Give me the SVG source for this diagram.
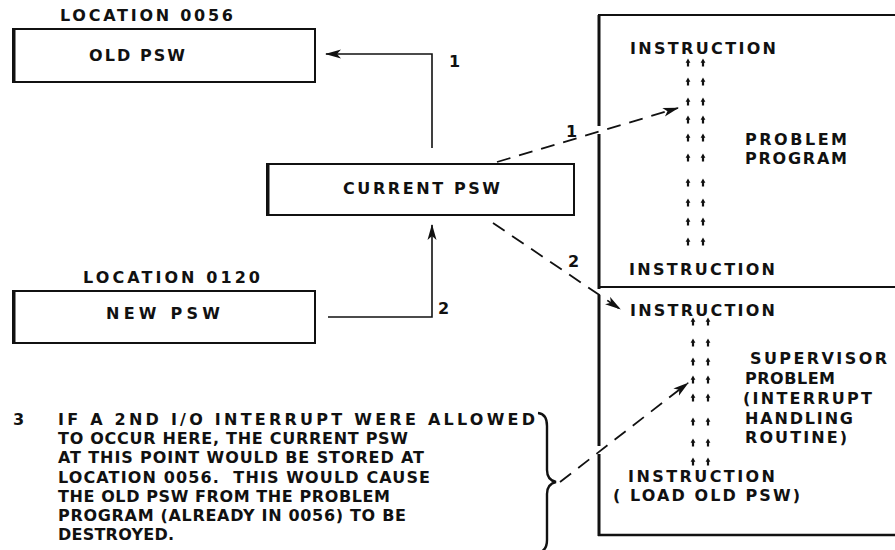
<svg xmlns="http://www.w3.org/2000/svg" width="895" height="550" viewBox="0 0 895 550">
<defs>
<style>
text{font-family:"DejaVu Sans","Liberation Sans",sans-serif;font-weight:bold;fill:#111;font-size:16px}
.note{font-size:16px}
.box{fill:#fff;stroke:#111;stroke-width:2}
.edge{stroke:#111;stroke-width:3;fill:none}
.conn{fill:none;stroke:#111;stroke-width:1.6}
.dash{fill:none;stroke:#111;stroke-width:1.8;stroke-dasharray:14 9}
.brace{fill:none;stroke:#111;stroke-width:2.4}
</style>
<marker id="ah" viewBox="0 0 16 10" refX="15" refY="5" markerWidth="16" markerHeight="10" markerUnits="userSpaceOnUse" orient="auto"><path d="M0,0.5 L16,5 L0,9.5 L4,5 Z" fill="#111"/></marker>
<path id="tick" d="M0,-4.5 L2.4,-0.3 L1.1,-0.3 L1.1,3.5 L-1.1,3.5 L-1.1,-0.3 L-2.4,-0.3 Z" fill="#111"/>
</defs>
<rect width="895" height="550" fill="#fff"/>

<g id="old-psw">
<text x="60" y="21" textLength="173" lengthAdjust="spacing">LOCATION 0056</text>
<rect class="box" x="13" y="29" width="302" height="53"/>
<line class="edge" x1="14" y1="29" x2="14" y2="82"/>
<text x="89" y="61" textLength="96" lengthAdjust="spacing">OLD PSW</text>
</g>

<g id="current-psw">
<rect class="box" x="267" y="164" width="307" height="51"/>
<line class="edge" x1="268" y1="164" x2="268" y2="215"/>
<text x="343" y="194" textLength="157" lengthAdjust="spacing">CURRENT PSW</text>
</g>

<g id="new-psw">
<text x="83" y="283" textLength="177" lengthAdjust="spacing">LOCATION 0120</text>
<rect class="box" x="13" y="291" width="302" height="52"/>
<line class="edge" x1="14" y1="291" x2="14" y2="343"/>
<text x="106" y="319" textLength="114" lengthAdjust="spacing">NEW PSW</text>
</g>

<g id="problem-program">
<path class="conn" style="stroke-width:2" d="M598,15 H895 M598,287 H895"/>
<path class="edge" d="M599,15 V126 M599,134 V289"/>
<text x="630" y="54" textLength="146" lengthAdjust="spacing">INSTRUCTION</text>
<use href="#tick" x="688" y="63"/><use href="#tick" x="703" y="63"/>
<use href="#tick" x="688" y="82"/><use href="#tick" x="703" y="82"/>
<use href="#tick" x="688" y="102"/><use href="#tick" x="703" y="102"/>
<use href="#tick" x="688" y="120"/><use href="#tick" x="703" y="120"/>
<use href="#tick" x="688" y="138"/><use href="#tick" x="703" y="138"/>
<use href="#tick" x="688" y="158"/><use href="#tick" x="703" y="158"/>
<use href="#tick" x="688" y="183"/><use href="#tick" x="703" y="183"/>
<use href="#tick" x="688" y="203"/><use href="#tick" x="703" y="203"/>
<use href="#tick" x="688" y="222"/><use href="#tick" x="703" y="222"/>
<use href="#tick" x="688" y="242"/><use href="#tick" x="703" y="242"/>
<text x="745" y="145" textLength="102" lengthAdjust="spacing">PROBLEM</text>
<text x="745" y="164" textLength="102" lengthAdjust="spacing">PROGRAM</text>
<text x="629" y="275" textLength="146" lengthAdjust="spacing">INSTRUCTION</text>
</g>

<g id="supervisor-routine">
<path class="conn" style="stroke-width:2.4" d="M598,535 H895"/>
<path class="edge" d="M599,295 V446 M599,454 V536"/>
<text x="630" y="316" textLength="145" lengthAdjust="spacing">INSTRUCTION</text>
<use href="#tick" x="693" y="322"/><use href="#tick" x="708" y="322"/>
<use href="#tick" x="693" y="343"/><use href="#tick" x="708" y="343"/>
<use href="#tick" x="693" y="362"/><use href="#tick" x="708" y="362"/>
<use href="#tick" x="693" y="380"/><use href="#tick" x="708" y="380"/>
<use href="#tick" x="693" y="398"/><use href="#tick" x="708" y="398"/>
<use href="#tick" x="693" y="422"/><use href="#tick" x="708" y="422"/>
<use href="#tick" x="693" y="443"/><use href="#tick" x="708" y="443"/>
<use href="#tick" x="693" y="462"/><use href="#tick" x="708" y="462"/>
<text x="750" y="364" textLength="137" lengthAdjust="spacing">SUPERVISOR</text>
<text x="745" y="384" textLength="90" lengthAdjust="spacing">PROBLEM</text>
<text x="743" y="404" textLength="129" lengthAdjust="spacing">(INTERRUPT</text>
<text x="745" y="424" textLength="108" lengthAdjust="spacing">HANDLING</text>
<text x="745" y="443" textLength="102" lengthAdjust="spacing">ROUTINE)</text>
<text x="628" y="482" textLength="147" lengthAdjust="spacing">INSTRUCTION</text>
<text x="613" y="501" textLength="187" lengthAdjust="spacing">( LOAD OLD PSW)</text>
</g>

<g id="note-3">
<text class="note" x="13" y="425">3</text>
<text class="note" x="58" y="425" textLength="477" lengthAdjust="spacing">IF A 2ND I/O INTERRUPT WERE ALLOWED</text>
<text class="note" x="58" y="444" textLength="350" lengthAdjust="spacing">TO OCCUR HERE, THE CURRENT PSW</text>
<text class="note" x="58" y="463" textLength="366" lengthAdjust="spacing">AT THIS POINT WOULD BE STORED AT</text>
<text class="note" x="58" y="483" textLength="372" lengthAdjust="spacing" xml:space="preserve">LOCATION 0056.  THIS WOULD CAUSE</text>
<text class="note" x="58" y="502" textLength="332" lengthAdjust="spacing">THE OLD PSW FROM THE PROBLEM</text>
<text class="note" x="58" y="521" textLength="348" lengthAdjust="spacing">PROGRAM (ALREADY IN 0056) TO BE</text>
<text class="note" x="58" y="540" textLength="116" lengthAdjust="spacing">DESTROYED.</text>
<path class="brace" d="M538,413 Q547,414 547,426 L547,470 Q547,480 556,482 Q547,484 547,494 L547,540 Q547,551 538,553"/>
</g>

<g id="connectors">
<path class="conn" d="M432,148 V54 H326" marker-end="url(#ah)"/>
<path class="conn" d="M328,317 H432 V225" marker-end="url(#ah)"/>
<path class="dash" d="M497,162 L678,108" marker-end="url(#ah)"/>
<path class="dash" d="M493,223 L620,309" marker-end="url(#ah)"/>
<path class="dash" d="M560,482 L688,383" marker-end="url(#ah)"/>
<text x="449" y="67">1</text>
<text x="438" y="314">2</text>
<text x="566" y="137">1</text>
<text x="568" y="267">2</text>
</g>
</svg>
